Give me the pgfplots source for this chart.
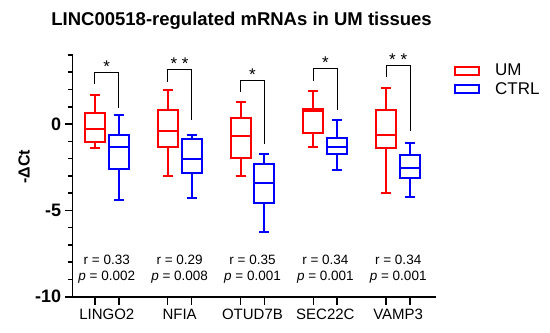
\documentclass[border=0pt]{standalone}
\usepackage{fontspec}
\setmainfont{Liberation Sans}
\usepackage{pgfplots}
\pgfplotsset{compat=1.18}
\usepgfplotslibrary{statistics}
\definecolor{umred}{RGB}{255,0,0}
\definecolor{ctrlblue}{RGB}{0,0,255}
\newcommand{\fs}[1]{\fontsize{#1bp}{#1bp}\selectfont}
\pgfplotsset{
  umbox/.style={draw=umred, line width=2bp, solid, forget plot},
  ctrlbox/.style={draw=ctrlblue, line width=2bp, solid, forget plot},
  brk/.style={black, line width=0.9bp, no markers, forget plot},
}
\begin{document}
\begin{tikzpicture}
\path[use as bounding box] (-72.7bp,-36.3bp) rectangle (477.3bp,296.7bp);
\begin{axis}[
  at={(0,0)}, anchor=south west,
  scale only axis, width=363.3bp, height=241.7bp,
  xmin=-0.468, xmax=4.519, ymin=-10, ymax=4,
  axis x line=bottom, axis y line=left,
  axis line style={-, line width=1.6bp, black},
  tick align=outside,
  ytick={-10,-5,0}, yticklabels={-10,-5,0},
  minor ytick={-9,-8,-7,-6,-4,-3,-2,-1,1,2,3,4},
  yticklabel style={font=\fs{18}\bfseries},
  major tick length=8bp, minor tick length=5bp,
  every tick/.style={line width=1.6bp, black},
  xtick={-0.164,0.164,0.836,1.164,1.836,2.164,2.836,3.164,3.836,4.164},
  xticklabels={},
  extra x ticks={0,1,2,3,4},
  extra x tick labels={LINGO2,NFIA,OTUD7B,SEC22C,VAMP3},
  extra x tick style={major tick length=0pt, tick label style={font=\fs{15}, yshift=-9bp}},
  boxplot/draw direction=y,
  legend style={draw=none, fill=none, at={(1,1)}, anchor=north west, xshift=15bp, yshift=-5bp,
    font=\fs{17}, row sep=1bp, column sep=13bp, cells={anchor=west}},
  legend image code/.code={\draw[#1] (0bp,-4bp) rectangle (24bp,4bp);},
  clip=false,
]
% LINGO2
\addplot[umbox, boxplot prepared={draw position=-0.164, lower whisker=-1.40, lower quartile=-1.05, median=-0.27, upper quartile=0.66, upper whisker=1.67, box extend=0.274, whisker extend=0.137}] coordinates {};
\addplot[ctrlbox, boxplot prepared={draw position=0.164, lower whisker=-4.38, lower quartile=-2.58, median=-1.32, upper quartile=-0.64, upper whisker=0.54, box extend=0.274, whisker extend=0.137}] coordinates {};
% NFIA
\addplot[umbox, boxplot prepared={draw position=0.836, lower whisker=-3.00, lower quartile=-1.30, median=-0.41, upper quartile=0.83, upper whisker=1.98, box extend=0.274, whisker extend=0.137}] coordinates {};
\addplot[ctrlbox, boxplot prepared={draw position=1.164, lower whisker=-4.30, lower quartile=-2.81, median=-2.02, upper quartile=-0.89, upper whisker=-0.66, box extend=0.274, whisker extend=0.137}] coordinates {};
% OTUD7B
\addplot[umbox, boxplot prepared={draw position=1.836, lower whisker=-2.98, lower quartile=-1.98, median=-0.68, upper quartile=0.33, upper whisker=1.30, box extend=0.274, whisker extend=0.137}] coordinates {};
\addplot[ctrlbox, boxplot prepared={draw position=2.164, lower whisker=-6.26, lower quartile=-4.55, median=-3.39, upper quartile=-2.34, upper whisker=-1.72, box extend=0.274, whisker extend=0.137}] coordinates {};
% SEC22C
\addplot[umbox, boxplot prepared={draw position=2.836, lower whisker=-1.34, lower quartile=-0.52, median=0.74, upper quartile=0.86, upper whisker=1.90, box extend=0.274, whisker extend=0.137}] coordinates {};
\addplot[ctrlbox, boxplot prepared={draw position=3.164, lower whisker=-2.64, lower quartile=-1.71, median=-1.30, upper quartile=-0.83, upper whisker=0.25, box extend=0.274, whisker extend=0.137}] coordinates {};
% VAMP3
\addplot[umbox, boxplot prepared={draw position=3.836, lower whisker=-3.97, lower quartile=-1.40, median=-0.64, upper quartile=0.79, upper whisker=2.11, box extend=0.274, whisker extend=0.137}] coordinates {};
\addplot[ctrlbox, boxplot prepared={draw position=4.164, lower whisker=-4.24, lower quartile=-3.12, median=-2.56, upper quartile=-1.80, upper whisker=-1.07, box extend=0.274, whisker extend=0.137}] coordinates {};
% brackets
\addplot[brk] coordinates {(-0.164,2.33)(-0.164,3.00)(0.164,3.00)(0.164,0.93)};
\addplot[brk] coordinates {(0.836,2.46)(0.836,3.14)(1.164,3.14)(1.164,0.21)};
\addplot[brk] coordinates {(1.836,1.86)(1.836,2.54)(2.164,2.54)(2.164,-1.14)};
\addplot[brk] coordinates {(2.836,2.52)(2.836,3.20)(3.164,3.20)(3.164,0.83)};
\addplot[brk] coordinates {(3.836,2.71)(3.836,3.37)(4.164,3.37)(4.164,-0.43)};
\node[font=\fs{17}, anchor=base] at (axis cs:0,3.00) {*};
\node[font=\fs{17}, anchor=base] at (axis cs:1,3.14) {* *};
\node[font=\fs{17}, anchor=base] at (axis cs:2,2.54) {*};
\node[font=\fs{17}, anchor=base] at (axis cs:3,3.20) {*};
\node[font=\fs{17}, anchor=base] at (axis cs:4,3.37) {* *};
% statistics
\foreach \i/\r/\p in {0/0.33/0.002, 1/0.29/0.008, 2/0.35/0.001, 3/0.34/0.001, 4/0.34/0.001}{
  \edef\tmp{\noexpand\node[font=\noexpand\fs{13.5}, anchor=base] at (axis cs:\i,-8.16) {r = \r};
    \noexpand\node[font=\noexpand\fs{13.5}, anchor=base] at (axis cs:\i,-9.09) {\noexpand\textit{p} = \p};}
  \tmp
}
\addlegendimage{umred, line width=2bp}
\addlegendentry{UM}
\addlegendimage{ctrlblue, line width=2bp}
\addlegendentry{CTRL}
\end{axis}
\node[font=\fs{18.5}\bfseries, anchor=base] at (168.9bp,271.4bp) {LINC00518-regulated mRNAs in UM tissues};
\node[font=\fs{16}\bfseries, rotate=90] at (-48.5bp,130bp) {-ΔCt};
\end{tikzpicture}
\end{document}
